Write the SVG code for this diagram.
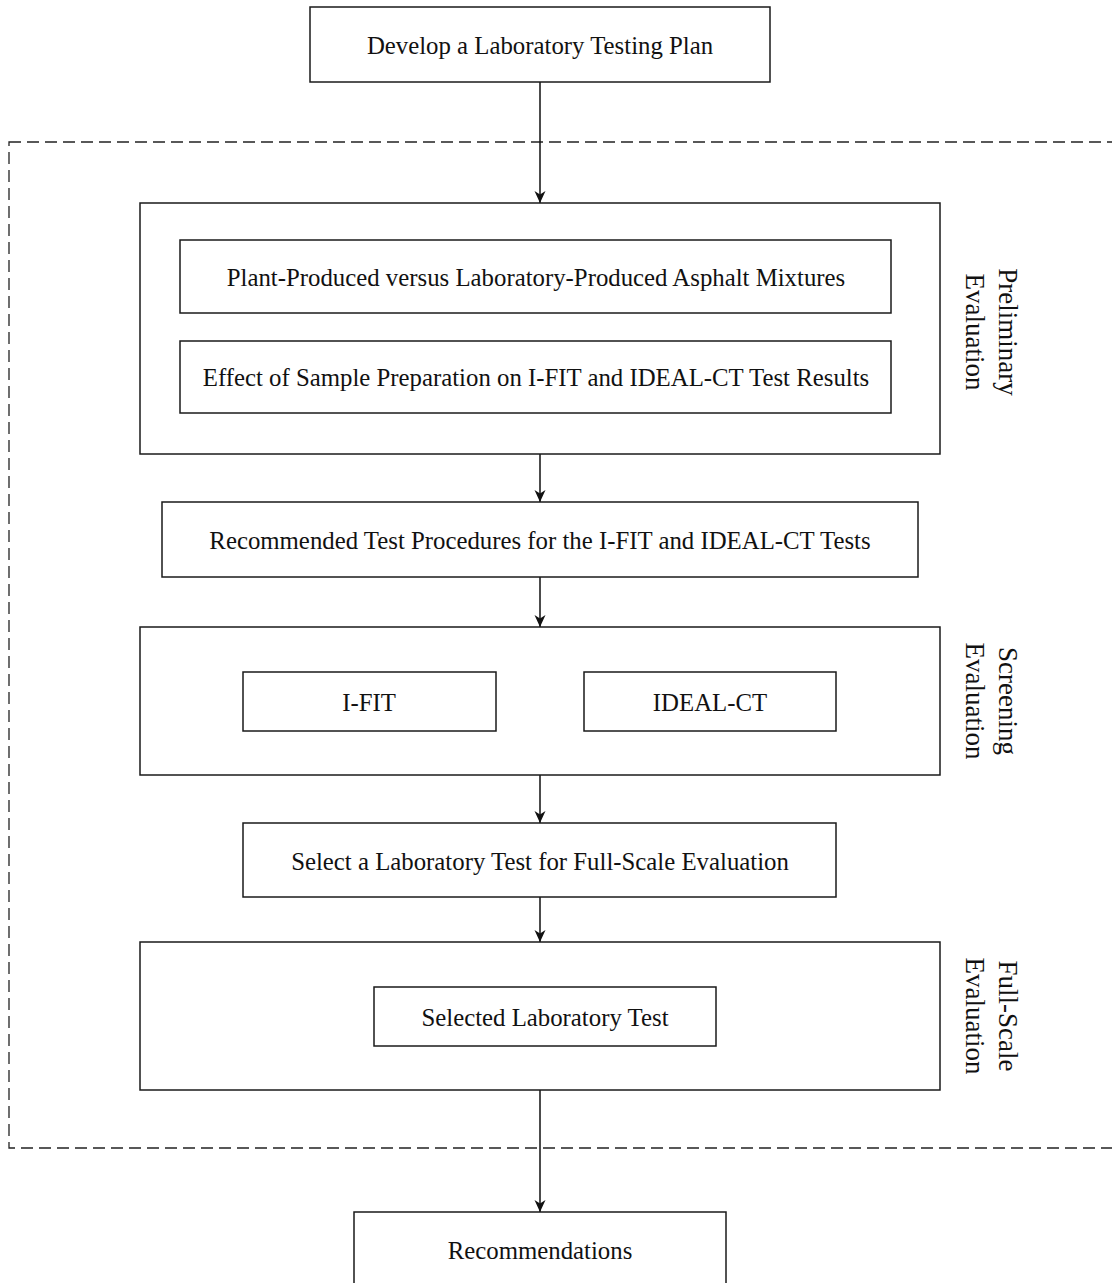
<svg xmlns="http://www.w3.org/2000/svg" width="1112" height="1283" viewBox="0 0 1112 1283">
<style>
.box{fill:#fff;stroke:#1a1a1a;stroke-width:1.5}
text{font-family:'Liberation Serif', 'Noto Serif', 'DejaVu Serif', serif;fill:#111;text-anchor:middle;dominant-baseline:central}
.t{font-size:24.8px}
.r{font-size:27px}
.c{stroke:#111;stroke-width:1.5;fill:none;marker-end:url(#ah)}
</style>
<defs>
<marker id="ah" viewBox="0 0 12 12" refX="12" refY="6" markerWidth="12" markerHeight="12" markerUnits="userSpaceOnUse" orient="auto">
<path d="M0,0.5 L12,6 L0,11.5 L3.5,6 z" fill="#111"/>
</marker>
</defs>
<rect width="1112" height="1283" fill="#fff"/>
<g id="dashed-region">
<rect x="9" y="142" width="1120" height="1006" fill="none" stroke="#222" stroke-width="1.3" stroke-dasharray="12 6"/>
</g>
<g id="connectors">
<line class="c" x1="540" y1="82" x2="540" y2="203"/>
<line class="c" x1="540" y1="454" x2="540" y2="502"/>
<line class="c" x1="540" y1="577" x2="540" y2="627"/>
<line class="c" x1="540" y1="775" x2="540" y2="823"/>
<line class="c" x1="540" y1="897" x2="540" y2="942"/>
<line class="c" x1="540" y1="1090" x2="540" y2="1212"/>
</g>
<g id="develop-plan">
<rect class="box" x="310" y="7" width="460" height="75"/>
<text class="t" x="540" y="45">Develop a Laboratory Testing Plan</text>
</g>
<g id="preliminary">
<rect class="box" x="140" y="203" width="800" height="251"/>
<text class="r" transform="translate(991,332) rotate(90)"><tspan x="0" y="-16.5">Preliminary</tspan><tspan x="0" y="16.5">Evaluation</tspan></text>
</g>
<g id="plant-vs-lab">
<rect class="box" x="180" y="240" width="711" height="73"/>
<text class="t" x="536" y="277">Plant-Produced versus Laboratory-Produced Asphalt Mixtures</text>
</g>
<g id="sample-prep">
<rect class="box" x="180" y="341" width="711" height="72"/>
<text class="t" x="536" y="377">Effect of Sample Preparation on I-FIT and IDEAL-CT Test Results</text>
</g>
<g id="recommended-procedures">
<rect class="box" x="162" y="502" width="756" height="75"/>
<text class="t" x="540" y="540">Recommended Test Procedures for the I-FIT and IDEAL-CT Tests</text>
</g>
<g id="screening">
<rect class="box" x="140" y="627" width="800" height="148"/>
<text class="r" transform="translate(991,701) rotate(90)"><tspan x="0" y="-16.5">Screening</tspan><tspan x="0" y="16.5">Evaluation</tspan></text>
</g>
<g id="ifit">
<rect class="box" x="243" y="672" width="253" height="59"/>
<text class="t" x="369" y="702">I-FIT</text>
</g>
<g id="idealct">
<rect class="box" x="584" y="672" width="252" height="59"/>
<text class="t" x="710" y="702">IDEAL-CT</text>
</g>
<g id="select-test">
<rect class="box" x="243" y="823" width="593" height="74"/>
<text class="t" x="540" y="861">Select a Laboratory Test for Full-Scale Evaluation</text>
</g>
<g id="full-scale">
<rect class="box" x="140" y="942" width="800" height="148"/>
<text class="r" transform="translate(991,1016) rotate(90)"><tspan x="0" y="-16.5">Full-Scale</tspan><tspan x="0" y="16.5">Evaluation</tspan></text>
</g>
<g id="selected-test">
<rect class="box" x="374" y="987" width="342" height="59"/>
<text class="t" x="545" y="1017">Selected Laboratory Test</text>
</g>
<g id="recommendations">
<rect class="box" x="354" y="1212" width="372" height="90"/>
<text class="t" x="540" y="1250">Recommendations</text>
</g>
</svg>
